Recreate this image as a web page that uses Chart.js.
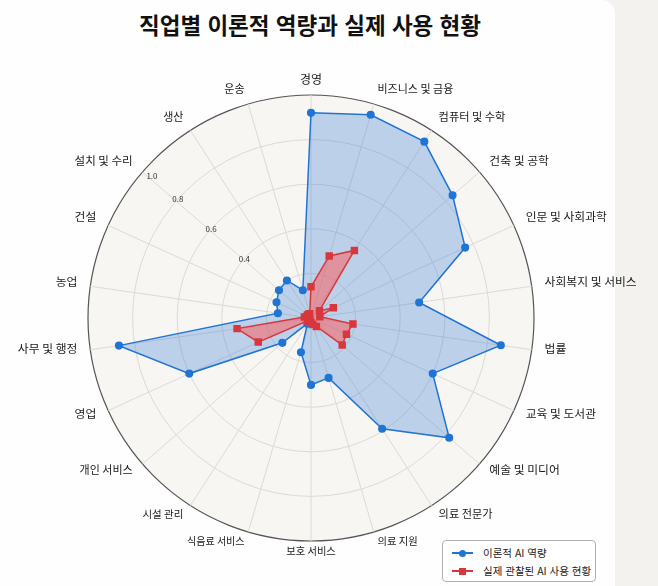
<!DOCTYPE html>
<html lang="ko">
<head>
<meta charset="utf-8">
<script src="https://cdn.jsdelivr.net/npm/chart.js@4.4.1/dist/chart.umd.min.js"></script>
<style>
  html, body { margin: 0; padding: 0; background: #f4f2ef; }
  #card { position: absolute; left: 0; top: 0; width: 615px; height: 586px; background: #fefefe; border-top-right-radius: 14px; }
  #title { position: absolute; left: 0; top: 8px; width: 620px; text-align: center; font: bold 22.5px "Noto Sans CJK KR", sans-serif; color: #111; margin: 0; }
  #wrap { position: absolute; left: 0; top: 0; width: 658px; height: 586px; }
  #legend { position: absolute; left: 442px; top: 540px; width: 152px; height: 40px; border: 1px solid #b0b0b0; border-radius: 4px; background: #fff; font: 10.5px "Noto Sans CJK KR", sans-serif; color: #222; }
  .row { position: absolute; left: 9px; height: 16px; line-height: 16px; white-space: nowrap; }
  .ln { position: absolute; left: 0; top: 7px; width: 21px; height: 1.5px; }
  .mk { position: absolute; left: 7px; top: 4.5px; width: 7px; height: 7px; }
  .tx { position: absolute; left: 31px; top: 0; }
</style>
</head>
<body>
<div id="card"></div>
<h1 id="title">직업별 이론적 역량과 실제 사용 현황</h1>
<div id="wrap"><canvas id="radar" width="658" height="586"></canvas></div>
<div id="legend"></div>
<script>
// categories (clockwise from top)
const jobs = ['경영', '비즈니스 및 금융', '컴퓨터 및 수학', '건축 및 공학', '인문 및 사회과학',
  '사회복지 및 서비스', '법률', '교육 및 도서관', '예술 및 미디어', '의료 전문가', '의료 지원',
  '보호 서비스', '식음료 서비스', '시설 관리', '개인 서비스', '영업', '사무 및 행정', '농업',
  '건설', '설치 및 수리', '생산', '운송'];
// theoretical AI capability
const theory = [0.92, 0.95, 0.94, 0.84, 0.76, 0.49, 0.86, 0.60, 0.82, 0.59, 0.28,
  0.30, 0.16, 0.03, 0.17, 0.60, 0.87, 0.15, 0.17, 0.19, 0.20, 0.13];
// observed AI usage
const observed = [0.14, 0.29, 0.36, 0.05, 0.11, 0.04, 0.19, 0.175, 0.185, 0.045, 0.03,
  0.02, 0.02, 0.01, 0.02, 0.26, 0.335, 0.03, 0.02, 0.02, 0.02, 0.02];
const tickVals = [0.4, 0.6, 0.8, 1.0];
const seriesNames = ['이론적 AI 역량', '실제 관찰된 AI 사용 현황'];

// label font sizes as they appear in the picture
const labelSize = [12, 11, 11.2, 11.8, 11.8, 11.8, 11.8, 11.8, 11.8, 11.2, 10.3,
  10.3, 10, 10.5, 11, 11.8, 11.8, 11.8, 11.8, 11.5, 11, 11];

const blue = '#1f74d4';
const red = '#d8373d';
const FONT = '"Noto Sans CJK KR", sans-serif';

// background disc, tick labels, category labels
const polarDeco = {
  id: 'polarDeco',
  beforeDraw(chart) {
    const s = chart.scales.r;
    const ctx = chart.ctx;
    ctx.save();
    ctx.beginPath();
    ctx.arc(s.xCenter, s.yCenter, s.drawingArea, 0, Math.PI * 2);
    ctx.fillStyle = '#f8f6f2';
    ctx.fill();
    ctx.restore();
  },
  beforeDatasetsDraw(chart) {
    const s = chart.scales.r;
    const ctx = chart.ctx;
    const a = 311.7 * Math.PI / 180;
    ctx.save();
    ctx.font = '8px ' + FONT;
    ctx.fillStyle = '#333';
    ctx.textAlign = 'center';
    ctx.textBaseline = 'middle';
    tickVals.forEach(v => {
      const d = s.getDistanceFromCenterForValue(v) - (v === 1 ? 10 : 0);
      ctx.fillText(v.toFixed(1), s.xCenter + d * Math.sin(a), s.yCenter - d * Math.cos(a));
    });
    ctx.restore();
  },
  afterDraw(chart) {
    const s = chart.scales.r;
    const ctx = chart.ctx;
    const n = jobs.length;
    ctx.save();
    ctx.fillStyle = '#1a1a1a';
    ctx.textBaseline = 'middle';
    jobs.forEach((name, i) => {
      const deg = i * 360 / n;
      const a = deg * Math.PI / 180;
      const d = s.drawingArea + 13;
      const x = s.xCenter + d * Math.sin(a);
      const y = s.yCenter - d * Math.cos(a) - 3;
      ctx.font = labelSize[i] + 'px ' + FONT;
      ctx.textAlign = (deg === 0 || deg === 180) ? 'center' : (deg < 180 ? 'left' : 'right');
      ctx.fillText(name, x, y);
    });
    ctx.restore();
  }
};

new Chart(document.getElementById('radar'), {
  type: 'radar',
  data: {
    labels: jobs,
    datasets: [{
      label: seriesNames[0],
      data: theory,
      borderColor: blue,
      backgroundColor: 'rgba(31, 116, 212, 0.28)',
      borderWidth: 1.5,
      pointStyle: 'circle',
      pointRadius: 3.3,
      pointBackgroundColor: blue,
      pointBorderColor: blue,
      fill: true,
      order: 2
    }, {
      label: seriesNames[1],
      data: observed,
      borderColor: red,
      backgroundColor: 'rgba(245, 105, 110, 0.6)',
      borderWidth: 1.5,
      pointStyle: 'rect',
      pointRadius: 4.2,
      pointBackgroundColor: red,
      pointBorderColor: red,
      fill: true,
      order: 1
    }]
  },
  options: {
    responsive: false,
    animation: false,
    layout: { padding: { left: 88, right: 124, top: 95, bottom: 45 } },
    plugins: { legend: { display: false }, tooltip: { enabled: false } },
    scales: {
      r: {
        min: 0,
        max: 1,
        ticks: { display: false, stepSize: 0.2 },
        pointLabels: { display: false },
        grid: {
          circular: true,
          color: ctx => ctx.tick && ctx.tick.value >= 1 ? '#555' : '#dedad4',
          lineWidth: ctx => ctx.tick && ctx.tick.value >= 1 ? 1.2 : 1
        },
        angleLines: { color: '#dedad4', lineWidth: 1 }
      }
    }
  },
  plugins: [polarDeco]
});

// legend built from the series names
const legend = document.getElementById('legend');
[[seriesNames[0], blue, '50%'], [seriesNames[1], red, '0']].forEach((item, k) => {
  const row = document.createElement('div');
  row.className = 'row';
  row.style.top = (4 + k * 18) + 'px';
  row.innerHTML = '<span class="ln" style="background:' + item[1] + '"></span>' +
    '<span class="mk" style="background:' + item[1] + ';border-radius:' + item[2] + '"></span>' +
    '<span class="tx">' + item[0] + '</span>';
  legend.appendChild(row);
});
</script>
</body>
</html>
